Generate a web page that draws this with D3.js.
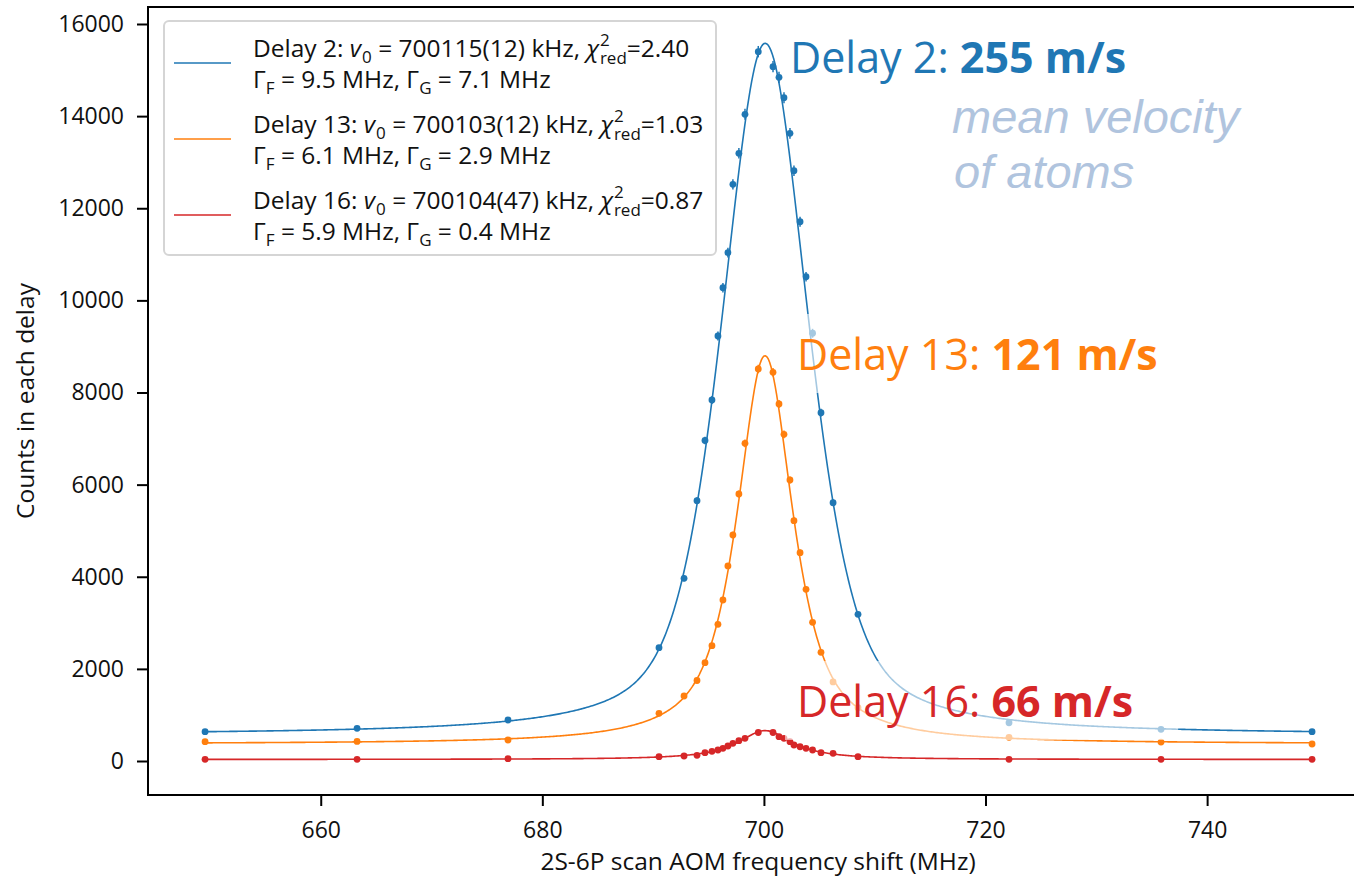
<!DOCTYPE html>
<html>
<head>
<meta charset="utf-8">
<script src="https://cdn.jsdelivr.net/npm/d3@7"></script>
<style>
body { margin: 0; background: #fff; }
svg { display: block; font-family: "Open Sans", sans-serif; }
</style>
</head>
<body>
<svg id="chart" width="1354" height="885"></svg>
<script>
"use strict";
// scan points (AOM shift, MHz) and counts per delay
const freq = [649.56, 663.28, 676.90, 690.53, 692.79, 693.96, 694.68, 695.31, 695.85, 696.30,
	696.75, 697.20, 697.74, 698.29, 699.49, 700.82, 701.36, 701.81, 702.35, 702.71,
	703.26, 703.80, 704.39, 705.15, 706.24, 708.49, 722.12, 735.84, 749.47];
const countsDelay2 = [636, 710, 890, 2460, 3966, 5651, 6958, 7837, 9227, 10275,
	11035, 12520, 13193, 14040, 15399, 15073, 14843, 14400, 13627, 12816,
	11708, 10514, 9286, 7562, 5608, 3185, 831, 688, 636];
const countsDelay13 = [419, 425, 456, 1036, 1411, 1748, 2134, 2503, 2968, 3495,
	4234, 4906, 5797, 6897, 8510, 8439, 7750, 7093, 6101, 5217,
	4522, 3728, 3010, 2359, 1716, 1156, 514, 412, 369];
const countsDelay16 = [37, 37, 50, 93, 109, 124, 180, 211, 239, 276,
	326, 384, 441, 493, 619, 619, 528, 493, 419, 347,
	310, 276, 239, 180, 167, 93, 37, 37, 37];

const seriesNames = ["Delay 2", "Delay 13", "Delay 16"];
const seriesColors = ["#1f77b4", "#ff7f0e", "#d62728"];

// voigt fit lines (pseudo-voigt), widths in axis units
const fitCenter = [700.115, 700.103, 700.104];
const fitLorentz = [4.0, 4.5, 5.9];
const fitGauss = [7.0, 3.0, 0.4];
const fitAmp = [15009, 8429, 627];
const fitOffset = [572, 370, 33];

// legend texts
const legendNu0 = ["700115(12)", "700103(12)", "700104(47)"];
const legendChi2 = ["2.40", "1.03", "0.87"];
const legendGammaF = ["9.5", "6.1", "5.9"];
const legendGammaG = ["7.1", "2.9", "0.4"];

const velocities = ["255 m/s", "121 m/s", "66 m/s"];
const xTicks = [660, 680, 700, 720, 740];
const yTicks = [0, 2000, 4000, 6000, 8000, 10000, 12000, 14000, 16000];

const counts = [countsDelay2, countsDelay13, countsDelay16];

const svg = d3.select("#chart");
const plotLeft = 148, plotRight = 1368, plotTop = 7, plotBottom = 795;

const x = d3.scaleLinear().domain([644.41, 754.52]).range([plotLeft, plotRight]);
const y = d3.scaleLinear().domain([-738, 16369]).range([plotBottom, plotTop]);

function pseudoVoigt(f, i) {
	let fg = fitGauss[i], fl = fitLorentz[i];
	let fw = Math.pow(Math.pow(fg, 5) + 2.69269 * Math.pow(fg, 4) * fl + 2.42843 * Math.pow(fg, 3) * fl * fl +
		4.47163 * fg * fg * Math.pow(fl, 3) + 0.07842 * fg * Math.pow(fl, 4) + Math.pow(fl, 5), 0.2);
	let r = fl / fw;
	let eta = 1.36603 * r - 0.47719 * r * r + 0.11116 * r * r * r;
	let d = f - fitCenter[i];
	let lor = 1 / (1 + Math.pow(2 * d / fw, 2));
	let gau = Math.exp(-4 * Math.LN2 * d * d / (fw * fw));
	return fitOffset[i] + fitAmp[i] * (eta * lor + (1 - eta) * gau);
}

svg.append("defs").append("clipPath").attr("id", "plotclip")
	.append("rect").attr("x", plotLeft).attr("y", plotTop)
	.attr("width", plotRight - plotLeft).attr("height", plotBottom - plotTop);

const plot = svg.append("g").attr("clip-path", "url(#plotclip)");

const line = d3.line().x(d => x(d[0])).y(d => y(d[1]));
const fMin = d3.min(freq), fMax = d3.max(freq);
const fine = d3.range(0, 801).map(k => fMin + (fMax - fMin) * k / 800);

seriesNames.forEach(function (name, i) {
	let g = plot.append("g");
	g.append("path")
		.datum(fine.map(f => [f, pseudoVoigt(f, i)]))
		.attr("d", line)
		.style("fill", "none")
		.style("stroke", seriesColors[i])
		.style("stroke-width", "1.6px");

	let pts = freq.map((f, k) => [f, counts[i][k]]);
	g.selectAll("line.err").data(pts).enter().append("line")
		.attr("class", "err")
		.attr("x1", d => x(d[0])).attr("x2", d => x(d[0]))
		.attr("y1", d => y(d[1] - Math.sqrt(d[1]))).attr("y2", d => y(d[1] + Math.sqrt(d[1])))
		.style("stroke", seriesColors[i])
		.style("stroke-width", "1.5px");
	g.selectAll("circle").data(pts).enter().append("circle")
		.attr("cx", d => x(d[0])).attr("cy", d => y(d[1]))
		.attr("r", 3.4)
		.style("fill", seriesColors[i]);
});

// axes
const yAxis = svg.append("g").attr("transform", "translate(" + plotLeft + ",0)")
	.call(d3.axisLeft(y).tickValues(yTicks).tickFormat(d3.format("d"))
		.tickSize(11).tickSizeOuter(0).tickPadding(13));
const xAxis = svg.append("g").attr("transform", "translate(0," + plotBottom + ")")
	.call(d3.axisBottom(x).tickValues(xTicks).tickFormat(d3.format("d"))
		.tickSize(11).tickSizeOuter(0).tickPadding(16));
[yAxis, xAxis].forEach(function (a) {
	a.select(".domain").remove();
	a.selectAll("line").style("stroke", "#000").style("stroke-width", "2px");
	a.selectAll("text").style("font-family", "'Open Sans', sans-serif").style("font-size", "23px").style("fill", "#111");
});
svg.append("rect")
	.attr("x", plotLeft).attr("y", plotTop).attr("width", plotRight - plotLeft).attr("height", plotBottom - plotTop)
	.style("fill", "none").style("stroke", "#000").style("stroke-width", "2px");

svg.append("text")
	.attr("transform", "translate(34,401) rotate(-90)")
	.attr("text-anchor", "middle")
	.style("font-size", "24.5px").style("fill", "#111")
	.text("Counts in each delay");
svg.append("text")
	.attr("x", 758).attr("y", 870)
	.attr("text-anchor", "middle")
	.style("font-size", "24.5px").style("fill", "#111")
	.text("2S-6P scan AOM frequency shift (MHz)");

// legend
const legend = svg.append("g");
legend.append("rect")
	.attr("x", 164).attr("y", 21).attr("width", 552).attr("height", 234)
	.attr("rx", 5)
	.style("fill", "#fff").style("fill-opacity", 0.8)
	.style("stroke", "#d5d5d5").style("stroke-width", "2px");

seriesNames.forEach(function (name, i) {
	let base = 57 + 76 * i;
	legend.append("line")
		.attr("x1", 174).attr("x2", 231)
		.attr("y1", base + 6).attr("y2", base + 6)
		.style("stroke", seriesColors[i]).style("stroke-width", "1.6px");

	let t1 = legend.append("text").attr("x", 253).attr("y", base)
		.style("font-size", "24.5px").style("fill", "#111");
	t1.append("tspan").text(name + ": ");
	t1.append("tspan").style("font-style", "italic").text("v");
	t1.append("tspan").attr("dx", 1).attr("dy", 6).style("font-size", "17px").text("0");
	t1.append("tspan").attr("dy", -6).text(" = " + legendNu0[i] + " kHz, ");
	t1.append("tspan").style("font-style", "italic").text("χ");
	t1.append("tspan").attr("dx", 1).attr("dy", -11).style("font-size", "17px").text("2");
	t1.append("tspan").attr("dx", -9.7).attr("dy", 18).style("font-size", "17px").text("red");
	t1.append("tspan").attr("dy", -7).text("=" + legendChi2[i]);

	let t2 = legend.append("text").attr("x", 253).attr("y", base + 31)
		.style("font-size", "24.5px").style("fill", "#111");
	t2.append("tspan").text("Γ");
	t2.append("tspan").attr("dy", 6).style("font-size", "17px").text("F");
	t2.append("tspan").attr("dy", -6).text(" = " + legendGammaF[i] + " MHz, Γ");
	t2.append("tspan").attr("dy", 6).style("font-size", "17px").text("G");
	t2.append("tspan").attr("dy", -6).text(" = " + legendGammaG[i] + " MHz");
});

// velocity annotations, with half transparent boxes behind two of them
const annoX = [790, 797, 797];
const annoBase = [73, 370, 717];
seriesNames.forEach(function (name, i) {
	let g = svg.append("g");
	let t = g.append("text").attr("x", annoX[i]).attr("y", annoBase[i])
		.style("font-size", "43px").style("fill", seriesColors[i]);
	t.append("tspan").text(name + ": ");
	t.append("tspan").style("font-weight", "bold").text(velocities[i]);
	if (i > 0) {
		let bb = t.node().getBBox();
		g.insert("rect", "text")
			.attr("x", bb.x - 12).attr("y", bb.y - 10)
			.attr("width", bb.width + 57).attr("height", bb.height + 20)
			.style("fill", "#fff").style("fill-opacity", 0.6);
	}
});

svg.append("text").attr("x", 952).attr("y", 133)
	.style("font-family", "'Liberation Sans', sans-serif").style("font-style", "italic")
	.style("font-size", "47px").style("fill", "#b0c4de")
	.text("mean velocity");
svg.append("text").attr("x", 954).attr("y", 188)
	.style("font-family", "'Liberation Sans', sans-serif").style("font-style", "italic")
	.style("font-size", "47px").style("fill", "#b0c4de")
	.text("of atoms");
</script>
</body>
</html>
